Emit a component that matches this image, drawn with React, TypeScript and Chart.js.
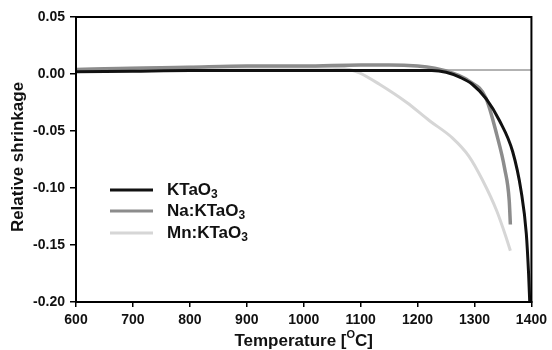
import React, { useEffect, useRef } from "react";
import { Chart, registerables } from "chart.js";

Chart.register(...registerables);

const ktTemp = [600, 700, 800, 900, 1000, 1100, 1150, 1200, 1225, 1250, 1275, 1296, 1321, 1344, 1367, 1382, 1391, 1395, 1397];
const ktShrink = [0.002, 0.0025, 0.003, 0.003, 0.003, 0.003, 0.003, 0.003, 0.003, 0.0015, -0.003, -0.009, -0.022, -0.041, -0.068, -0.103, -0.14, -0.175, -0.2];

const naTemp = [600, 700, 800, 900, 1000, 1100, 1150, 1200, 1230, 1260, 1290, 1320, 1339, 1353, 1361, 1363];
const naShrink = [0.004, 0.005, 0.006, 0.007, 0.007, 0.008, 0.008, 0.007, 0.005, 0.001, -0.006, -0.021, -0.053, -0.083, -0.111, -0.132];

const mnTemp = [600, 700, 800, 900, 1000, 1050, 1080, 1098, 1133, 1181, 1221, 1261, 1290, 1314, 1339, 1356, 1363];
const mnShrink = [0.004, 0.005, 0.006, 0.006, 0.006, 0.006, 0.004, 0.001, -0.009, -0.025, -0.041, -0.056, -0.072, -0.093, -0.12, -0.144, -0.155];

const xTicks = [600, 700, 800, 900, 1000, 1100, 1200, 1300, 1400];
const yTicks = [0.05, 0.0, -0.05, -0.1, -0.15, -0.2];

const seriesNames = ["KTaO", "Na:KTaO", "Mn:KTaO"];
const seriesColors = ["#111111", "#8c8c8c", "#d6d6d6"];
const referenceLevel = 0.0035;

const FONT = "'Liberation Sans', Arial, sans-serif";

const toPoints = (xs: number[], ys: number[]) => xs.map((x, i) => ({ x, y: ys[i] }));

const customPlugin = {
  id: "custom",
  beforeDatasetsDraw(chart: any) {
    const { ctx, chartArea, scales } = chart;
    const y = scales.y.getPixelForValue(referenceLevel);
    ctx.save();
    ctx.strokeStyle = "#666";
    ctx.lineWidth = 1;
    ctx.beginPath();
    ctx.moveTo(chartArea.left, y);
    ctx.lineTo(chartArea.right, y);
    ctx.stroke();
    ctx.restore();
  },
  afterDraw(chart: any) {
    const { ctx, chartArea } = chart;
    ctx.save();
    ctx.strokeStyle = "#000";
    ctx.lineWidth = 2;
    ctx.strokeRect(chartArea.left, chartArea.top, chartArea.right - chartArea.left, chartArea.bottom - chartArea.top);

    const lx = 110;
    const ly = [190, 211, 233];
    ctx.fillStyle = "#111";
    ctx.textBaseline = "middle";
    ctx.textAlign = "left";
    seriesNames.forEach((name, i) => {
      ctx.strokeStyle = seriesColors[i];
      ctx.lineWidth = 3;
      ctx.beginPath();
      ctx.moveTo(lx, ly[i]);
      ctx.lineTo(lx + 43, ly[i]);
      ctx.stroke();
      ctx.font = `bold 17px ${FONT}`;
      ctx.fillText(name, 167, ly[i]);
      const w = ctx.measureText(name).width;
      ctx.font = `bold 12px ${FONT}`;
      ctx.fillText("3", 167 + w, ly[i] + 5);
    });

    const p1 = "Temperature [";
    const p3 = "C]";
    ctx.font = `bold 17px ${FONT}`;
    const w1 = ctx.measureText(p1).width;
    const w3 = ctx.measureText(p3).width;
    ctx.font = `bold 11px ${FONT}`;
    const w2 = ctx.measureText("O").width;
    const total = w1 + w2 + w3;
    let x0 = (chartArea.left + chartArea.right) / 2 - total / 2;
    const ty = 341;
    ctx.font = `bold 17px ${FONT}`;
    ctx.fillText(p1, x0, ty);
    x0 += w1;
    ctx.font = `bold 11px ${FONT}`;
    ctx.fillText("O", x0, ty - 6);
    x0 += w2;
    ctx.font = `bold 17px ${FONT}`;
    ctx.fillText(p3, x0, ty);

    ctx.translate(18, 157);
    ctx.rotate(-Math.PI / 2);
    ctx.textAlign = "center";
    ctx.font = `bold 17px ${FONT}`;
    ctx.fillText("Relative shrinkage", 0, 0);
    ctx.restore();
  },
};

export default function App() {
  const ref = useRef<HTMLCanvasElement>(null);
  useEffect(() => {
    if (!ref.current) return;
    const chart = new Chart(ref.current, {
      type: "line",
      data: {
        datasets: [
          { label: "Mn:KTaO3", data: toPoints(mnTemp, mnShrink), borderColor: seriesColors[2], borderWidth: 3, pointRadius: 0, cubicInterpolationMode: "monotone", order: 3 },
          { label: "Na:KTaO3", data: toPoints(naTemp, naShrink), borderColor: seriesColors[1], borderWidth: 3.5, pointRadius: 0, cubicInterpolationMode: "monotone", order: 2 },
          { label: "KTaO3", data: toPoints(ktTemp, ktShrink), borderColor: seriesColors[0], borderWidth: 3, pointRadius: 0, cubicInterpolationMode: "monotone", order: 1 },
        ],
      },
      options: {
        animation: false,
        responsive: false,
        layout: { padding: { top: 17, right: 20, left: 0, bottom: 0 } },
        plugins: { legend: { display: false }, tooltip: { enabled: false } },
        scales: {
          x: {
            type: "linear",
            min: 600,
            max: 1400,
            afterFit: (s: any) => { s.height = 48; },
            afterBuildTicks: (s: any) => { s.ticks = xTicks.map((v) => ({ value: v })); },
            ticks: { color: "#111", font: { family: FONT, size: 14, weight: "bold" }, padding: 5, maxRotation: 0, autoSkip: false, callback: (v: any) => String(v) },
            grid: { drawOnChartArea: false, drawTicks: true, tickLength: 5, color: "#000", lineWidth: 1.5 },
            border: { color: "#000", width: 2 },
          },
          y: {
            type: "linear",
            min: -0.2,
            max: 0.05,
            afterFit: (s: any) => { s.width = 76; },
            afterBuildTicks: (s: any) => { s.ticks = yTicks.map((v) => ({ value: v })); },
            ticks: { color: "#111", font: { family: FONT, size: 14, weight: "bold" }, padding: 5, autoSkip: false, callback: (v: any) => Number(v).toFixed(2) },
            grid: { drawOnChartArea: false, drawTicks: true, tickLength: 6, color: "#000", lineWidth: 1.5 },
            border: { color: "#000", width: 2 },
          },
        },
      },
      plugins: [customPlugin],
    });
    return () => chart.destroy();
  }, []);
  return (
    <div style={{ position: "fixed", left: 0, top: 0, width: 552, height: 350, background: "#fff" }}>
      <canvas ref={ref} width={552} height={350} style={{ width: 552, height: 350 }} />
    </div>
  );
}
